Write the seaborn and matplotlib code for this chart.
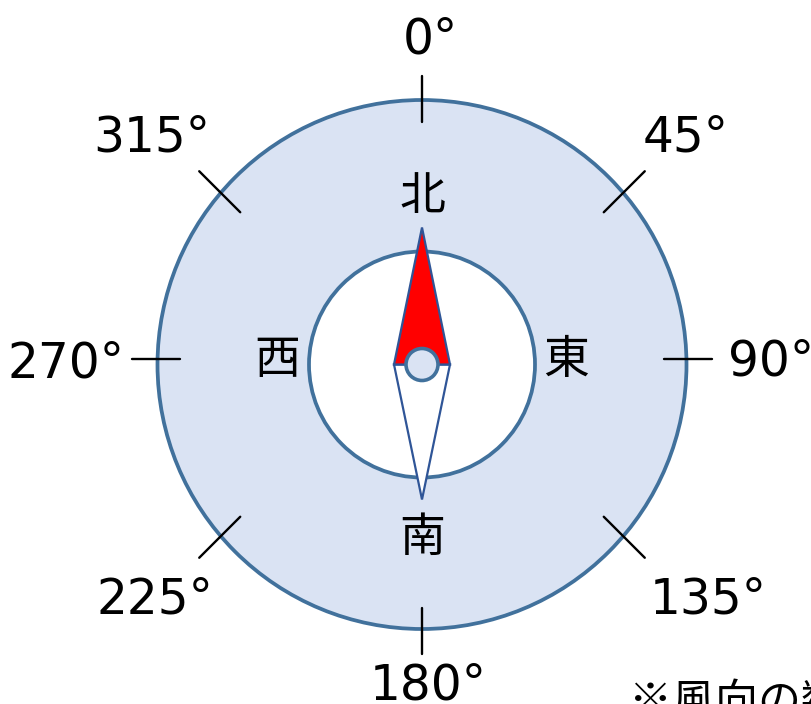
import numpy as np
import pandas as pd
import matplotlib.pyplot as plt
import seaborn as sns
from matplotlib.patches import Circle, Polygon

sns.set_theme(style="white")
plt.rcParams["font.family"] = ["DejaVu Sans", "Noto Sans CJK JP"]

# ========== Data ==========
angles = [0, 45, 90, 135, 180, 225, 270, 315]
angle_labels = ["0°", "45°", "90°", "135°", "180°", "225°", "270°", "315°"]
# where each tick sits on the ring (the diagonal ticks sit a bit off the exact diagonal)
tick_pos_angles = [0, 49.5, 88.9, 130.5, 180, 229.5, 271.1, 310.5]
tick_half_len = [23, 29, 24, 29, 23, 29, 24, 29]
# label anchor points (pixels)
label_x = [430, 686, 771, 708, 428, 155, 66, 152]
label_y = [40, 138, 361, 600, 685, 599, 363, 138]
directions = ["北", "東", "南", "西"]
direction_x = [422, 566, 422, 277]
direction_y = [197, 360, 538, 360]
note_text = "※風向の数値"

# ---------- Layout (pixel coordinates) ----------
cx, cy = 422, 364.5
r_outer, r_inner, r_hub = 264.5, 113, 16
tick_r = 266
ring_fill = "#dae3f3"
ring_edge = "#41719c"
needle_edge = "#2f5597"
cjk = ["Noto Sans CJK JP", "DejaVu Sans"]


def polar(r, deg):
    t = np.deg2rad(deg)
    return cx + r * np.sin(t), cy - r * np.cos(t)


fig = plt.figure(figsize=(8.12, 7.04), dpi=100)
ax = fig.add_axes([0, 0, 1, 1])

# rings
ax.add_patch(Circle((cx, cy), r_outer, facecolor=ring_fill, edgecolor=ring_edge, lw=2.7, zorder=1))
ax.add_patch(Circle((cx, cy), r_inner, facecolor="white", edgecolor=ring_edge, lw=2.7, zorder=2))

# tick marks through seaborn
rows = []
for a, pa, h in zip(angles, tick_pos_angles, tick_half_len):
    mx, my = polar(tick_r, pa)
    t = np.deg2rad(a)
    for s in (-1, 1):
        rows.append({"angle": a, "x": mx + s * h * np.sin(t), "y": my - s * h * np.cos(t)})
df_ticks = pd.DataFrame(rows)
sns.lineplot(data=df_ticks, x="x", y="y", units="angle", estimator=None,
             sort=False, color="black", lw=1.7, ax=ax, zorder=3, legend=False)

# angle labels
for lab, x, y in zip(angle_labels, label_x, label_y):
    ax.text(x, y, lab, ha="center", va="center", fontsize=35, color="black", zorder=4)

# direction labels
for d, x, y in zip(directions, direction_x, direction_y):
    ax.text(x, y, d, ha="center", va="center", fontsize=33, color="black",
            family=cjk, zorder=4)

# needle
half_w, len_n, len_s = 28, 137, 135
north = Polygon([(cx, cy - len_n), (cx - half_w, cy), (cx + half_w, cy)],
                closed=True, facecolor="#ff0000", edgecolor=needle_edge, lw=1.6, zorder=5)
south = Polygon([(cx - half_w, cy), (cx + half_w, cy), (cx, cy + len_s)],
                closed=True, facecolor="white", edgecolor=needle_edge, lw=1.6, zorder=5)
ax.add_patch(south)
ax.add_patch(north)
ax.add_patch(Circle((cx, cy), r_hub, facecolor=ring_fill, edgecolor=ring_edge, lw=2.6, zorder=6))

# cut-off note at the bottom right
ax.text(629, 681, note_text, ha="left", va="top", fontsize=31, color="black",
        family=cjk, zorder=4)

ax.set_xlim(0, 812)
ax.set_ylim(704, 0)
ax.axis("off")

fig.savefig("out.png", dpi=100)
